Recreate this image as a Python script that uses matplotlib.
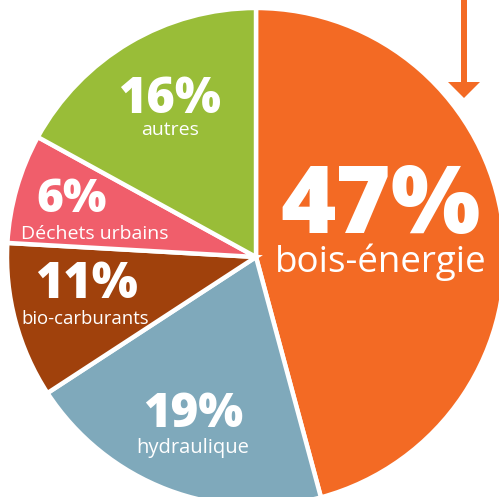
import matplotlib
matplotlib.use("Agg")
import matplotlib.pyplot as plt

# slice shares as drawn (angles), clockwise from the top
names = ['bois-énergie', 'hydraulique', 'bio-carburants', 'Déchets urbains', 'autres']
pct_labels = ['47%', '19%', '11%', '6%', '16%']
shares = [45.8, 20.0, 10.1, 7.1, 17.0]
colors = ['#F36A24', '#7FA9BB', '#A0410C', '#F05E6B', '#99BD38']
explode = [0.014, 0, 0, 0, 0]

W, H = 499, 497
fig = plt.figure(figsize=(W / 100, H / 100), dpi=100)
ax = fig.add_axes([0, 0, 1, 1])

ax.pie(shares, colors=colors, startangle=90, counterclock=False,
       center=(256, 240), radius=249, explode=explode,
       wedgeprops=dict(edgecolor='white', linewidth=3.2))

# label positions in pixels (x, baseline y from top) and font sizes
pct_pos = [(381, 233), (193, 427), (86, 298), (72, 212), (169, 113)]
pct_size = [68, 34, 35, 33, 35]
name_pos = [(381, 272), (193, 453), (85, 324), (95, 239), (170, 135)]
name_size = [26.5, 14.5, 13.3, 14, 14]

for i in range(len(names)):
    x, y = pct_pos[i]
    ax.text(x, H - y, pct_labels[i], ha='center', va='baseline', color='white',
            fontsize=pct_size[i], fontweight='heavy', family=['Open Sans', 'DejaVu Sans'])
    x, y = name_pos[i]
    ax.text(x, H - y, names[i], ha='center', va='baseline', color='white',
            fontsize=name_size[i], family=['Open Sans', 'DejaVu Sans'])

# arrow pointing down onto the orange slice
ax.arrow(464, H + 2, 0, -100, width=6, head_width=32, head_length=16,
         length_includes_head=True, color='#F36A24', lw=0)

ax.set_xlim(0, W)
ax.set_ylim(0, H)
ax.set_aspect('auto')
ax.axis('off')

fig.savefig('out.png', dpi=100)
